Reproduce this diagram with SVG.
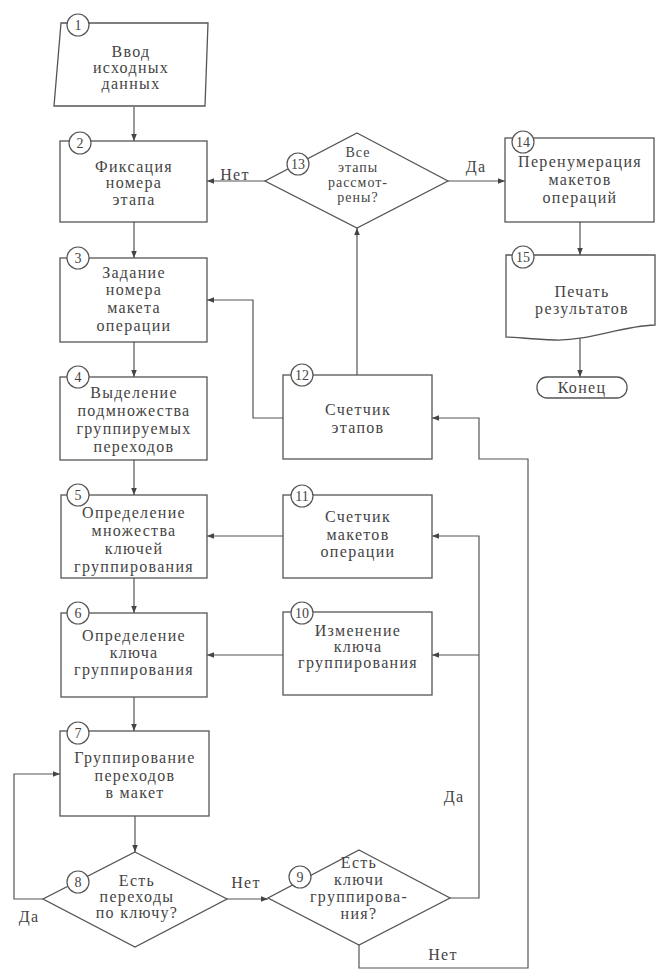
<svg xmlns="http://www.w3.org/2000/svg" width="670" height="974" viewBox="0 0 670 974">
<defs>
<marker id="arr" viewBox="0 0 10 10" refX="10" refY="5" markerWidth="7" markerHeight="7" markerUnits="userSpaceOnUse" orient="auto">
<path d="M0,1 L10,5 L0,9 Z" fill="#444"/>
</marker>
</defs>
<style>
.sh{fill:#fff;stroke:#555;stroke-width:1.3}
.cn{fill:none;stroke:#555;stroke-width:1.2}
.t{font-family:"Liberation Serif","DejaVu Serif",serif;font-size:16px;fill:#444;text-anchor:middle;letter-spacing:1.3px}
.s{font-size:14px;letter-spacing:1px}
.c{fill:#fff;stroke:#555;stroke-width:1.2}
.n{font-family:"Liberation Serif","DejaVu Serif",serif;font-size:14px;fill:#444;text-anchor:middle}
</style>
<rect width="670" height="974" fill="#fff"/>
<g id="connectors">
<path class="cn" d="M134,107 V141" marker-end="url(#arr)"/>
<path class="cn" d="M134,222 V258" marker-end="url(#arr)"/>
<path class="cn" d="M134,342 V377" marker-end="url(#arr)"/>
<path class="cn" d="M134,460 V495" marker-end="url(#arr)"/>
<path class="cn" d="M134,578 V613" marker-end="url(#arr)"/>
<path class="cn" d="M134,697 V731" marker-end="url(#arr)"/>
<path class="cn" d="M135,816 V852" marker-end="url(#arr)"/>
<path class="cn" d="M227,899 H268" marker-end="url(#arr)"/>
<path class="cn" d="M43,899 H14 V774 H60" marker-end="url(#arr)"/>
<path class="cn" d="M450,898 H479 V536 H432" marker-end="url(#arr)"/>
<path class="cn" d="M479,655 H432" marker-end="url(#arr)"/>
<path class="cn" d="M359,945 V968 H528 V459 H479 V418 H432" marker-end="url(#arr)"/>
<path class="cn" d="M283,655 H207" marker-end="url(#arr)"/>
<path class="cn" d="M283,536 H207" marker-end="url(#arr)"/>
<path class="cn" d="M283,418 H253 V300 H207" marker-end="url(#arr)"/>
<path class="cn" d="M357,375 V228" marker-end="url(#arr)"/>
<path class="cn" d="M265,181 H207" marker-end="url(#arr)"/>
<path class="cn" d="M448,181 H505" marker-end="url(#arr)"/>
<path class="cn" d="M580,222 V255" marker-end="url(#arr)"/>
<path class="cn" d="M580,334 V377" marker-end="url(#arr)"/>
<text class="t" x="235" y="180">Нет</text>
<text class="t" x="476" y="172">Да</text>
<text class="t" x="454" y="802">Да</text>
<text class="t" x="246" y="888">Нет</text>
<text class="t" x="29" y="922">Да</text>
<text class="t" x="443" y="960">Нет</text>
</g>
<g id="n1">
<polygon class="sh" points="61,23 208,23 205,106 54,106"/>
<text class="t" x="131" y="57">Ввод</text>
<text class="t" x="131" y="73">исходных</text>
<text class="t" x="131" y="89">данных</text>
<circle class="c" cx="78" cy="25" r="11"/><text class="n" x="78" y="30">1</text>
</g>
<g id="n2">
<rect class="sh" x="60" y="141" width="147" height="81"/>
<text class="t" x="134" y="172">Фиксация</text>
<text class="t" x="134" y="188">номера</text>
<text class="t" x="134" y="205">этапа</text>
<circle class="c" cx="80" cy="143" r="11"/><text class="n" x="80" y="148">2</text>
</g>
<g id="n3">
<rect class="sh" x="60" y="258" width="147" height="84"/>
<text class="t" x="134" y="278">Задание</text>
<text class="t" x="134" y="295">номера</text>
<text class="t" x="134" y="313">макета</text>
<text class="t" x="134" y="331">операции</text>
<circle class="c" cx="78" cy="258" r="11"/><text class="n" x="78" y="263">3</text>
</g>
<g id="n4">
<rect class="sh" x="60" y="377" width="147" height="83"/>
<text class="t" x="134" y="398">Выделение</text>
<text class="t" x="134" y="416">подмножества</text>
<text class="t" x="134" y="434">группируемых</text>
<text class="t" x="134" y="452">переходов</text>
<circle class="c" cx="78" cy="377" r="11"/><text class="n" x="78" y="382">4</text>
</g>
<g id="n5">
<rect class="sh" x="61" y="495" width="146" height="83"/>
<text class="t" x="134" y="518">Определение</text>
<text class="t" x="134" y="536">множества</text>
<text class="t" x="134" y="554">ключей</text>
<text class="t" x="134" y="572">группирования</text>
<circle class="c" cx="78" cy="495" r="11"/><text class="n" x="78" y="500">5</text>
</g>
<g id="n6">
<rect class="sh" x="61" y="613" width="146" height="84"/>
<text class="t" x="134" y="641">Определение</text>
<text class="t" x="134" y="658">ключа</text>
<text class="t" x="134" y="675">группирования</text>
<circle class="c" cx="78" cy="613" r="11"/><text class="n" x="78" y="618">6</text>
</g>
<g id="n7">
<rect class="sh" x="60" y="731" width="149" height="85"/>
<text class="t" x="135" y="763">Группирование</text>
<text class="t" x="135" y="781">переходов</text>
<text class="t" x="135" y="798">в макет</text>
<circle class="c" cx="78" cy="733" r="11"/><text class="n" x="78" y="738">7</text>
</g>
<g id="n8">
<polygon class="sh" points="135,852 227,899 135,947 43,899"/>
<text class="t" x="137" y="886">Есть</text>
<text class="t" x="137" y="902">переходы</text>
<text class="t" x="137" y="918">по ключу?</text>
<circle class="c" cx="78" cy="882" r="11"/><text class="n" x="78" y="887">8</text>
</g>
<g id="n9">
<polygon class="sh" points="359,850 450,898 359,945 268,898"/>
<text class="t" x="359" y="868">Есть</text>
<text class="t" x="359" y="885">ключи</text>
<text class="t" x="359" y="902">группирова-</text>
<text class="t" x="359" y="919">ния?</text>
<circle class="c" cx="300" cy="877" r="11"/><text class="n" x="300" y="882">9</text>
</g>
<g id="n10">
<rect class="sh" x="283" y="612" width="149" height="83"/>
<text class="t" x="358" y="636">Изменение</text>
<text class="t" x="358" y="652">ключа</text>
<text class="t" x="358" y="668">группирования</text>
<circle class="c" cx="302" cy="613" r="11"/><text class="n" x="302" y="618">10</text>
</g>
<g id="n11">
<rect class="sh" x="283" y="495" width="149" height="83"/>
<text class="t" x="358" y="522">Счетчик</text>
<text class="t" x="358" y="540">макетов</text>
<text class="t" x="358" y="557">операции</text>
<circle class="c" cx="302" cy="496" r="11"/><text class="n" x="302" y="501">11</text>
</g>
<g id="n12">
<rect class="sh" x="283" y="375" width="149" height="84"/>
<text class="t" x="358" y="415">Счетчик</text>
<text class="t" x="358" y="433">этапов</text>
<circle class="c" cx="302" cy="375" r="11"/><text class="n" x="302" y="380">12</text>
</g>
<g id="n13">
<polygon class="sh" points="357,133 448,181 357,228 265,181"/>
<text class="t s" x="358" y="157">Все</text>
<text class="t s" x="358" y="172">этапы</text>
<text class="t s" x="358" y="187">рассмот-</text>
<text class="t s" x="358" y="202">рены?</text>
<circle class="c" cx="298" cy="164" r="11"/><text class="n" x="298" y="169">13</text>
</g>
<g id="n14">
<rect class="sh" x="505" y="138" width="149" height="84"/>
<text class="t" x="580" y="167">Перенумерация</text>
<text class="t" x="580" y="185">макетов</text>
<text class="t" x="580" y="203">операций</text>
<circle class="c" cx="523" cy="142" r="11"/><text class="n" x="523" y="147">14</text>
</g>
<g id="n15">
<path class="sh" d="M506,255 H655 V325 C620,326 590,341 555,340 C530,339 515,337 506,337 Z"/>
<text class="t" x="582" y="297">Печать</text>
<text class="t" x="582" y="314">результатов</text>
<circle class="c" cx="523" cy="257" r="11"/><text class="n" x="523" y="262">15</text>
</g>
<g id="end">
<rect class="sh" x="537" y="377" width="90" height="21" rx="10" ry="10"/>
<text class="t" x="582" y="393">Конец</text>
</g>
</svg>
